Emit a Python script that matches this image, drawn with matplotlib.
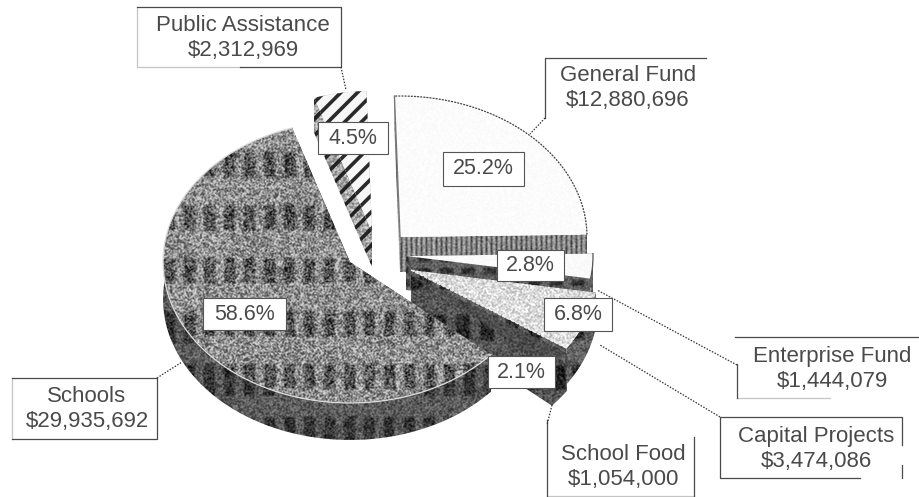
import numpy as np
import matplotlib
matplotlib.use("Agg")
import matplotlib.pyplot as plt
from matplotlib.patches import Polygon, Rectangle

plt.rcParams['font.family'] = ['Liberation Sans', 'DejaVu Sans']
plt.rcParams['hatch.linewidth'] = 2.6

# Budget by fund, in the drawing order of the pie (counter-clockwise from Schools)
funds = ["Schools", "School Food", "Capital Projects", "Enterprise Fund", "General Fund", "Public Assistance"]
amounts = [29935692, 1054000, 3474086, 1444079, 12880696, 2312969]
shares = ["58.6%", "2.1%", "6.8%", "2.8%", "25.2%", "4.5%"]

W, H = 919, 497
RX, RY = 187, 141
START = 108.0
INK = "#4a4a4a"
FRAME = "#4a4a4a"
FAINT = "#c4c4c4"

# slice centre (pixels) and wall height, by fund
centres = {
    "Schools": (350, 262), "School Food": (411, 275), "Capital Projects": (411, 270),
    "Enterprise Fund": (406, 256), "General Fund": (400, 237), "Public Assistance": (372, 232),
}
depths = {"Schools": 37, "School Food": 38, "Capital Projects": 36,
          "Enterprise Fund": 34, "General Fund": 35, "Public Assistance": 35}

fig = plt.figure(figsize=(W / 100, H / 100), dpi=100)
ax = fig.add_axes([0, 0, 1, 1])
ax.axis("off")


def soften(a, reach=(-1, 0, 1)):
    """Box average, used to take the hard edge off the textures."""
    out = np.zeros_like(a, dtype=float)
    for dx in reach:
        for dy in reach:
            out += np.roll(np.roll(a, dx, axis=1), dy, axis=0)
    return out / len(reach) ** 2


yy, xx = np.mgrid[0:H, 0:W]
raw = np.modf(np.abs(np.sin(xx * 12.9898 + yy * 78.233)) * 43758.5453)[0]
grain = np.clip(0.5 + 1.7 * (soften(raw, (0, 1)) - 0.5), 0, 1)


def texture(base, amp, blotch=0.0, px=20, py=52, ox=0, oy=0, bw=0.55, bh=0.5):
    """Grey speckle with an optional regular grid of darker blotches."""
    img = base + amp * (grain - 0.5)
    if blotch:
        inx = ((xx - ox) % px) < px * bw
        iny = ((yy - oy) % py) < py * bh
        img = img - blotch * soften((inx & iny).astype(float))
    return np.clip(img, 0, 1)


def fill(points, tex=None, color=None, hatch=None, hatch_color="#222222"):
    if tex is not None:
        patch = Polygon(points, closed=True, transform=ax.transData, fc="none", ec="none")
        ax.add_patch(patch)
        im = ax.imshow(tex, cmap="gray", vmin=0, vmax=1, extent=(0, W, H, 0),
                       aspect="auto", interpolation="bilinear")
        im.set_clip_path(patch)
    elif color is not None:
        ax.add_patch(Polygon(points, closed=True, fc=color, ec="none", lw=0))
    if hatch:
        ax.add_patch(Polygon(points, closed=True, fc="none", ec=hatch_color, hatch=hatch, lw=0))


def rim(centre, a0, a1, n=80):
    t = np.radians(np.linspace(a0, a1, n))
    return np.column_stack([centre[0] + RX * np.cos(t), centre[1] - RY * np.sin(t)])


# slice angles come straight from the dollar amounts
sweep = np.array(amounts, dtype=float) / np.sum(amounts) * 360.0
ends = START + np.cumsum(sweep)
starts = ends - sweep
spans = {f: (s, e) for f, s, e in zip(funds, starts, ends)}

styles = {
    "General Fund": dict(
        top=texture(0.985, 0.025),
        wall=texture(0.78, 0.2, blotch=0.45, px=5, py=60, bw=0.45, bh=1.0)),
    "Public Assistance": dict(top=None, wall=texture(0.66, 0.4)),
    "Enterprise Fund": dict(
        top=texture(0.98, 0.03),
        wall=texture(0.38, 0.2, blotch=0.2, px=22, py=12, oy=4)),
    "Capital Projects": dict(
        top=texture(0.86, 0.3),
        wall=texture(0.38, 0.25, blotch=0.2, px=22, py=50, oy=15)),
    "School Food": dict(
        top=texture(0.30, 0.18),
        wall=texture(0.33, 0.25, blotch=0.18, px=24, py=50, oy=15)),
    "Schools": dict(
        top=texture(0.56, 0.5, blotch=0.24, px=20, py=53, oy=152, ox=4, bh=0.46),
        wall=texture(0.36, 0.28, blotch=0.16, px=20, py=53, oy=152, ox=4, bh=0.6)),
}

for fund in ["General Fund", "Public Assistance", "Enterprise Fund", "Capital Projects", "School Food", "Schools"]:
    c = centres[fund]
    d = depths[fund]
    a0, a1 = spans[fund]
    arc = rim(c, a0, a1)
    low = arc + [0, d]
    style = styles[fund]
    lowc = (c[0], c[1] + d)
    # radial cut faces, then the curved outer wall, then the top face
    stripes = "//" if fund == "Public Assistance" else None
    fill(np.array([c, arc[0], low[0], lowc]), tex=style["wall"], hatch=stripes)
    fill(np.array([c, arc[-1], low[-1], lowc]), tex=style["wall"], hatch=stripes)
    fill(np.vstack([arc, low[::-1]]), tex=style["wall"], hatch=stripes)
    top = np.vstack([[c], arc])
    if style["top"] is not None:
        fill(top, tex=style["top"])
    else:
        fill(top, color="#f7f7f7", hatch="//", hatch_color="#2a2a2a")
    if fund == "General Fund":
        ax.plot(arc[:, 0], arc[:, 1], color="#444444", lw=0.9, ls=(0, (1.5, 1)))
        ax.plot([c[0], arc[-1][0]], [c[1], arc[-1][1]], color="#777777", lw=1.0)
    elif fund == "Enterprise Fund":
        ax.plot(arc[:, 0], arc[:, 1], color="#555555", lw=0.9)
    elif fund == "Capital Projects":
        ax.plot([c[0], arc[0][0]], [c[1], arc[0][1]], color="#eeeeee", lw=1.0, ls=(0, (2.5, 1)))
    elif fund == "Schools":
        ax.plot(arc[:, 0], arc[:, 1], color="#dddddd", lw=0.9)

# share labels in white boxes
share_boxes = {
    "Schools": (203, 298, 286, 330), "School Food": (488, 356, 555, 388),
    "Capital Projects": (544, 298, 612, 331), "Enterprise Fund": (497, 250, 564, 281),
    "General Fund": (443, 152, 524, 186), "Public Assistance": (318, 122, 388, 154),
}
for fund, share in zip(funds, shares):
    x0, y0, x1, y1 = share_boxes[fund]
    ax.add_patch(Rectangle((x0, y0), x1 - x0, y1 - y0, fc="white", ec="#555555", lw=0.8, zorder=5))
    ax.text((x0 + x1) / 2, (y0 + y1) / 2, share, ha="center", va="center",
            fontsize=15.5, color=INK, zorder=6)

# callouts: name and amount, firm and faded frame segments, dotted leader
callouts = {
    "Public Assistance": dict(xy=(243, 38), frame=[[(137, 7), (341, 7), (341, 67), (240, 67)]],
                              faint=[[(240, 67), (137, 67), (137, 7)]],
                              leader=[(341, 67), (346, 90)]),
    "General Fund": dict(xy=(628, 88), frame=[[(545, 118), (545, 58), (706, 58)]], faint=[],
                         leader=[(545, 118), (530, 134)]),
    "Enterprise Fund": dict(xy=(832, 369), frame=[[(737, 398), (737, 364)], [(735, 337), (919, 337)]],
                            faint=[[(737, 398), (830, 398)]],
                            leader=[(737, 365), (597, 290)]),
    "Capital Projects": dict(xy=(816, 449), frame=[[(902, 445), (902, 417), (720, 417), (720, 478), (860, 478)],
                                                   [(902, 465), (902, 478)]], faint=[],
                             leader=[(720, 417), (600, 345)]),
    "School Food": dict(xy=(623, 467), frame=[[(547, 420), (547, 496)], [(694, 496), (694, 437)]],
                        faint=[[(547, 496), (694, 496)]],
                        leader=[(552, 405), (547, 425)]),
    "Schools": dict(xy=(87, 409), frame=[[(12, 439), (157, 439), (157, 378), (12, 378)]],
                    faint=[[(12, 378), (12, 439)]],
                    leader=[(157, 378), (182, 362)]),
}
for fund, amount in zip(funds, amounts):
    spec = callouts[fund]
    ax.text(spec["xy"][0], spec["xy"][1], f"{fund}\n${amount:,}", ha="center", va="center",
            fontsize=16, color=INK, linespacing=1.2, zorder=6)
    for seg in spec["faint"]:
        fx, fy = zip(*seg)
        ax.plot(fx, fy, color=FAINT, lw=0.9, zorder=4)
    for seg in spec["frame"]:
        fx, fy = zip(*seg)
        ax.plot(fx, fy, color=FRAME, lw=0.9, zorder=4)
    lx, ly = zip(*spec["leader"])
    ax.plot(lx, ly, color="#333333", lw=0.9, ls=(0, (1.2, 1.2)), zorder=4)

ax.set_xlim(0, W)
ax.set_ylim(H, 0)
fig.savefig("out.png", dpi=100, facecolor="white")
